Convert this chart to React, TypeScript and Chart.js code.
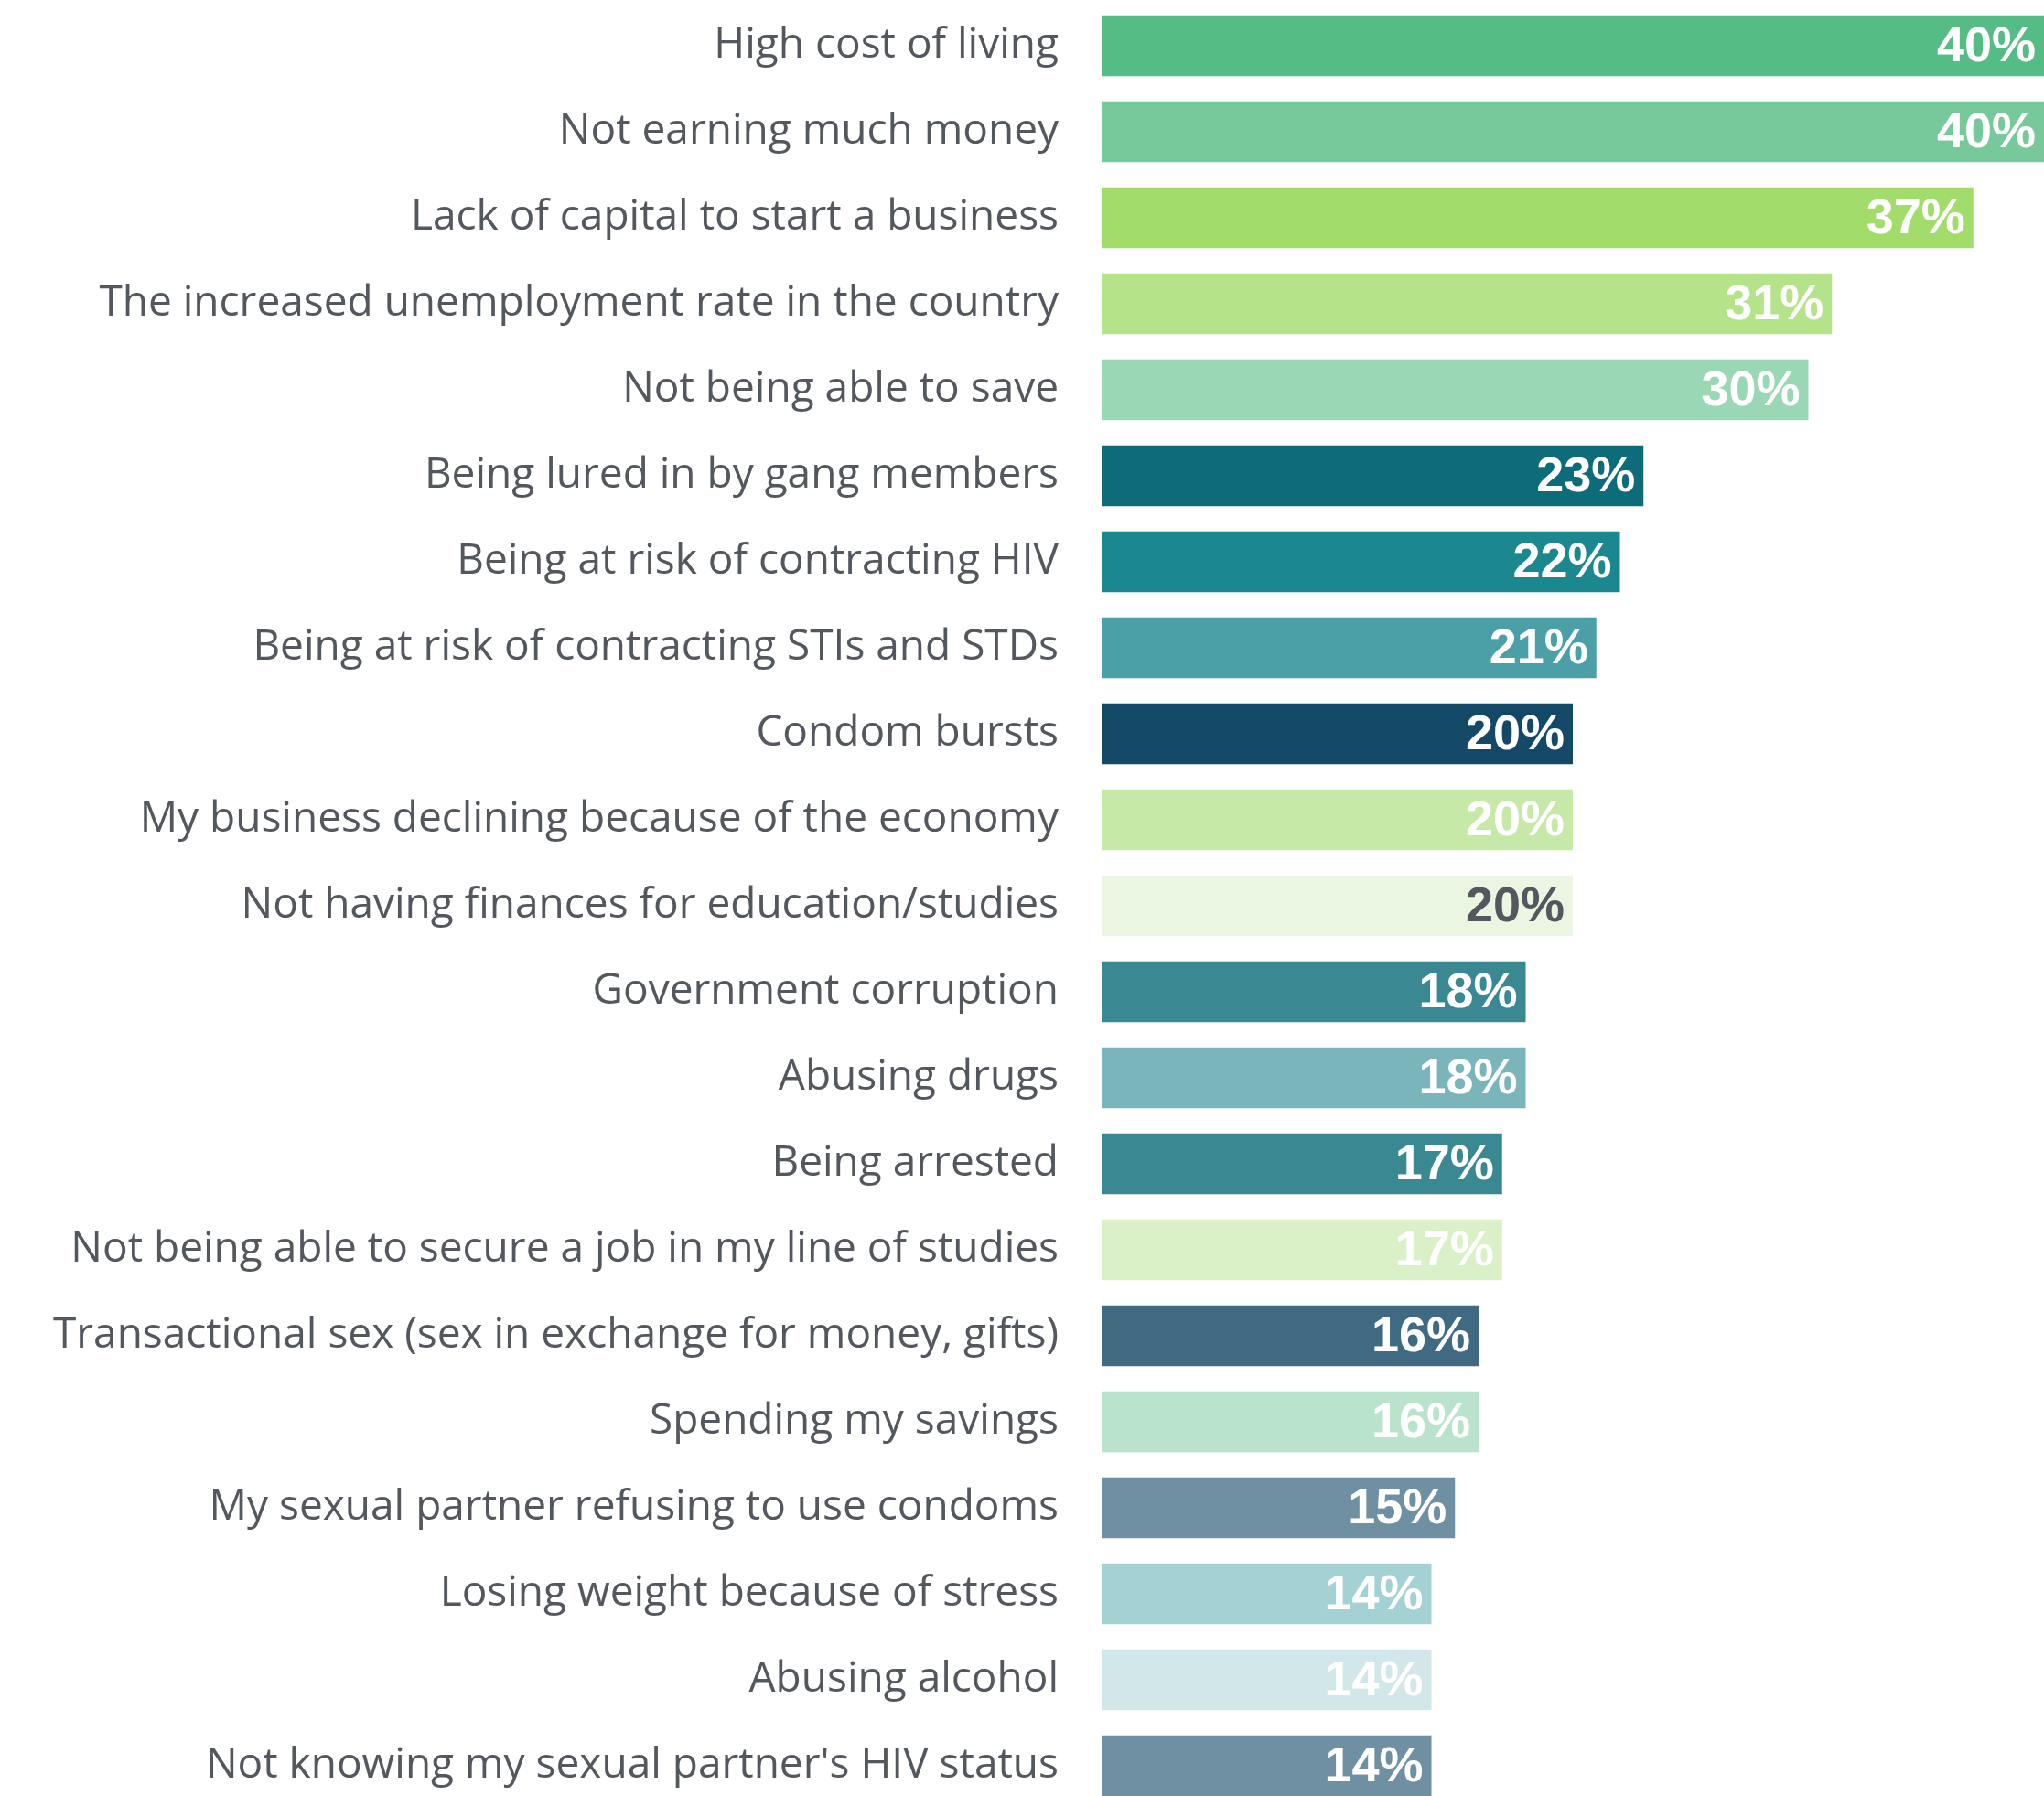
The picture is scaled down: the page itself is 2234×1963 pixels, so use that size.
import React, { useEffect, useRef } from "react";
import { Chart, registerables } from "chart.js";

Chart.register(...registerables);

const categories: string[] = [
  "High cost of living",
  "Not earning much money",
  "Lack of capital to start a business",
  "The increased unemployment rate in the country",
  "Not being able to save",
  "Being lured in by gang members",
  "Being at risk of contracting HIV",
  "Being at risk of contracting STIs and STDs",
  "Condom bursts",
  "My business declining because of the economy",
  "Not having finances for education/studies",
  "Government corruption",
  "Abusing drugs",
  "Being arrested",
  "Not being able to secure a job in my line of studies",
  "Transactional sex (sex in exchange for money, gifts)",
  "Spending my savings",
  "My sexual partner refusing to use condoms",
  "Losing weight because of stress",
  "Abusing alcohol",
  "Not knowing my sexual partner's HIV status",
];

const values: number[] = [40, 40, 37, 31, 30, 23, 22, 21, 20, 20, 20, 18, 18, 17, 17, 16, 16, 15, 14, 14, 14];

const barColors: string[] = [
  "#56bc85",
  "#77c99c",
  "#a2dc6a",
  "#b4e38a",
  "#9ad7b4",
  "#0e6b7a",
  "#1b878f",
  "#4aa0a6",
  "#134866",
  "#c7e9a7",
  "#ebf6e2",
  "#3a8892",
  "#7ab5bc",
  "#3a8892",
  "#daf0c7",
  "#3f6a82",
  "#b9e4cb",
  "#6f8fa2",
  "#a3d1d4",
  "#d2e7ea",
  "#6f8fa2",
];

const valueLabelColors: string[] = [
  "#ffffff", "#ffffff", "#ffffff", "#ffffff", "#ffffff", "#ffffff", "#ffffff",
  "#ffffff", "#ffffff", "#ffffff", "#53575e", "#ffffff", "#ffffff", "#ffffff",
  "#ffffff", "#ffffff", "#ffffff", "#ffffff", "#ffffff", "#ffffff", "#ffffff",
];

const valueLabelPlugin = {
  id: "valueLabels",
  afterDatasetsDraw(chart: any) {
    const { ctx } = chart;
    const meta = chart.getDatasetMeta(0);
    ctx.save();
    ctx.font = "bold 54px 'Liberation Sans', Arial, sans-serif";
    ctx.textAlign = "right";
    ctx.textBaseline = "middle";
    meta.data.forEach((bar: any, i: number) => {
      ctx.fillStyle = valueLabelColors[i];
      ctx.fillText(values[i] + "%", bar.x - 9, bar.y + 2);
    });
    ctx.restore();
  },
};

export default function App() {
  const canvasRef = useRef<HTMLCanvasElement | null>(null);

  useEffect(() => {
    if (!canvasRef.current) return;
    const chart = new Chart(canvasRef.current, {
      type: "bar",
      data: {
        labels: categories,
        datasets: [
          {
            data: values,
            backgroundColor: barColors,
            borderWidth: 0,
            barPercentage: 0.71,
            categoryPercentage: 1,
          },
        ],
      },
      options: {
        indexAxis: "y",
        responsive: false,
        animation: false,
        devicePixelRatio: 1,
        layout: { padding: { top: 3, bottom: 3, left: 0, right: 0 } },
        plugins: {
          legend: { display: false },
          tooltip: { enabled: false },
        },
        scales: {
          x: {
            display: false,
            min: 0,
            max: 40,
            grid: { display: false },
          },
          y: {
            afterFit: (scale: any) => {
              scale.width = 1204;
              scale.paddingTop = 0;
              scale.paddingBottom = 0;
            },
            grid: { display: false, drawTicks: false },
            border: { display: false },
            ticks: {
              autoSkip: false,
              padding: 47,
              color: "#53575e",
              font: { family: "'Open Sans', Lato, sans-serif", size: 46 },
            },
          },
        },
      },
      plugins: [valueLabelPlugin],
    });
    return () => chart.destroy();
  }, []);

  return (
    <div
      style={{
        position: "fixed",
        left: 0,
        top: 0,
        width: 2234,
        height: 1963,
        overflow: "hidden",
        background: "#ffffff",
      }}
    >
      <canvas ref={canvasRef} width={2234} height={1980} />
    </div>
  );
}
